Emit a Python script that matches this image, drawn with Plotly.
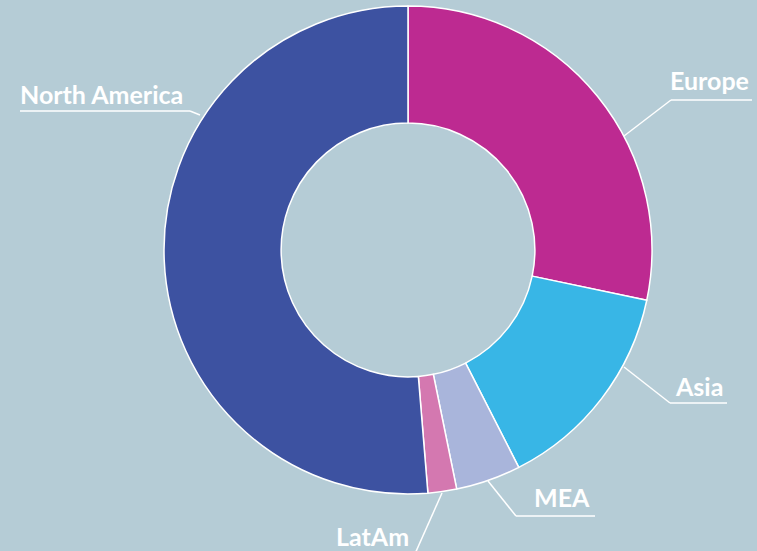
import plotly.graph_objects as go

W, H = 757, 551

regions = ["Europe", "Asia", "MEA", "LatAm", "North America"]
shares = [28.3, 14.2, 4.3, 1.9, 51.3]
colors = ["#BD2A91", "#38B6E6", "#A9B5DB", "#D478B0", "#3D52A1"]

# label layout (pixel positions): leader start, elbow, underline end, text anchor
label_layout = {
    "Europe":        dict(line=[(624, 136), (671, 100), (752, 100)], text=(751, 80), anchor="right"),
    "Asia":          dict(line=[(624, 367), (670, 403), (727, 403)], text=(725, 386), anchor="right"),
    "MEA":           dict(line=[(488, 481), (516, 516), (595, 516)], text=(592, 497), anchor="right"),
    "LatAm":         dict(line=[(442, 493), (414, 556)], text=(411, 536), anchor="right"),
    "North America": dict(line=[(200, 115), (190, 111), (20, 111)], text=(18, 94), anchor="left"),
}

def px(x, y):
    return x / W, 1 - y / H

cx, cy, r = 408, 250, 244
x0, y0 = px(cx - r, cy + r)
x1, y1 = px(cx + r, cy - r)

fig = go.Figure(go.Pie(
    labels=regions,
    values=shares,
    sort=False,
    direction="clockwise",
    rotation=0,
    hole=0.52,
    marker=dict(colors=colors, line=dict(color="white", width=1.5)),
    textinfo="none",
    hoverinfo="label+percent",
    domain=dict(x=[x0, x1], y=[y0, y1]),
    showlegend=False,
))

shapes = []
annotations = []
for name in regions:
    lay = label_layout[name]
    pts = lay["line"]
    for (ax, ay), (bx, by) in zip(pts[:-1], pts[1:]):
        p0 = px(ax, ay)
        p1 = px(bx, by)
        shapes.append(dict(type="line", xref="paper", yref="paper",
                           x0=p0[0], y0=p0[1], x1=p1[0], y1=p1[1],
                           line=dict(color="white", width=1.5)))
    tx, ty = px(*lay["text"])
    annotations.append(dict(text=name, x=tx, y=ty, xref="paper", yref="paper",
                            xanchor=lay["anchor"], yanchor="middle", showarrow=False,
                            font=dict(family="Lato", size=25, color="white", weight="bold")))

fig.update_layout(
    width=W, height=H,
    margin=dict(l=0, r=0, t=0, b=0),
    paper_bgcolor="#B5CCD6",
    plot_bgcolor="#B5CCD6",
    shapes=shapes,
    annotations=annotations,
)

fig.write_html("out.html", config={"displayModeBar": False},
               post_script="document.body.style.margin='0';document.body.style.background='#B5CCD6';")
